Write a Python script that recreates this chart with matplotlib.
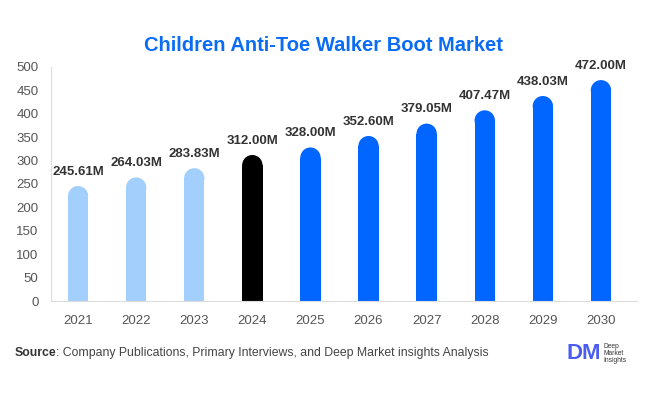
import matplotlib
matplotlib.use("Agg")
import matplotlib.pyplot as plt
from matplotlib.patches import Rectangle, Ellipse

years = ["2021", "2022", "2023", "2024", "2025", "2026", "2027", "2028", "2029", "2030"]
values = [245.61, 264.03, 283.83, 312.00, 328.00, 352.60, 379.05, 407.47, 438.03, 472.00]
labels = ["245.61M", "264.03M", "283.83M", "312.00M", "328.00M", "352.60M", "379.05M", "407.47M", "438.03M", "472.00M"]
colors = ["#a3cffd"] * 3 + ["#000000"] + ["#0066ff"] * 6
yticks = [0, 50, 100, 150, 200, 250, 300, 350, 400, 450, 500]

plt.rcParams['font.family'] = ['Liberation Sans', 'DejaVu Sans']
fig = plt.figure(figsize=(6.46, 3.94), dpi=100)
ax = fig.add_axes([0.079, 0.236, 0.907, 0.594])
x0, x1 = -0.465, len(years) - 1 + 0.62
ax.set_xlim(x0, x1)
ax.set_ylim(0, 500)

bw = 0.35
ax_h_px = 0.594 * 394
ax_w_px = 0.907 * 646
rx = bw / 2
r_px = rx * ax_w_px / (x1 - x0)
ry = r_px * 500 / ax_h_px
for i, (v, c) in enumerate(zip(values, colors)):
    ax.add_patch(Rectangle((i - bw / 2, 0), bw, v - ry, facecolor=c, edgecolor='none'))
    ax.add_patch(Ellipse((i, v - ry), bw, 2 * ry, facecolor=c, edgecolor='none'))
    ax.text(i, v + 18, labels[i], ha='center', va='bottom', fontsize=9.5,
            fontweight='bold', color='#333333', clip_on=False)

ax.set_xticks(range(len(years)))
ax.set_xticklabels(years)
ax.set_yticks(yticks)
ax.tick_params(axis='both', length=0, colors='#555555', labelsize=9.5)
ax.tick_params(axis='x', pad=10)
ax.tick_params(axis='y', pad=9)
for s in ['top', 'right']:
    ax.spines[s].set_visible(False)
for s in ['left', 'bottom']:
    ax.spines[s].set_color('#dddddd')

fig.text(0.5, 0.885, "Children Anti-Toe Walker Boot Market", ha='center', va='center',
         fontsize=14.5, fontweight='bold', color='#0a6cf5')
fig.text(0.023, 0.103, "Source", ha='left', va='center', fontsize=8.8, fontweight='bold', color='#333333')
fig.text(0.086, 0.103, ": Company Publications, Primary Interviews, and Deep Market insights Analysis",
         ha='left', va='center', fontsize=8.8, color='#444444')
fig.text(0.903, 0.103, "DM", ha='center', va='center', fontsize=16, fontweight='bold', color='#4b5cf0')
fig.text(0.934, 0.103, "Deep\nMarket\nInsights", ha='left', va='center', fontsize=4.8,
         color='#333333', linespacing=1.0)

fig.savefig("out.png", dpi=100, facecolor='white')
